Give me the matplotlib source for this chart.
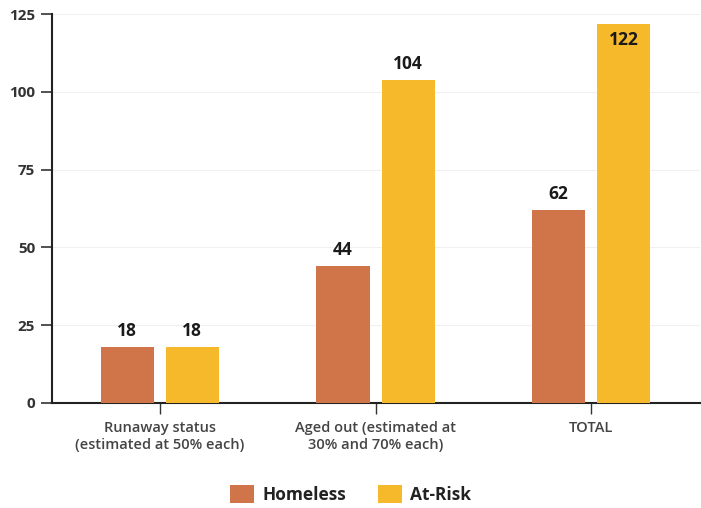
import matplotlib.pyplot as plt
import numpy as np

# Data
categories = ['Runaway status\n(estimated at 50% each)',
              'Aged out (estimated at\n30% and 70% each)',
              'TOTAL']
homeless = [18, 44, 62]
at_risk = [18, 104, 122]

homeless_color = '#D0744A'
atrisk_color = '#F5B92B'

fig = plt.figure(figsize=(7.01, 5.08), dpi=100)
ax = fig.add_axes([0.074, 0.207, 0.925, 0.765])

x = np.arange(len(categories))
w = 0.246
off = 0.151
b1 = ax.bar(x - off, homeless, w, color=homeless_color, label='Homeless', zorder=3)
b2 = ax.bar(x + off, at_risk, w, color=atrisk_color, label='At-Risk', zorder=3)

# value labels
for bars in (b1, b2):
    for rect in bars:
        h = rect.get_height()
        cx = rect.get_x() + rect.get_width() / 2
        if h > 115:
            ax.text(cx, h - 2.5, f'{h:g}', ha='center', va='top',
                    fontsize=12.5, fontweight='bold', color='#1a1a1a',
                    family='Open Sans', zorder=4)
        else:
            ax.text(cx, h + 2.2, f'{h:g}', ha='center', va='bottom',
                    fontsize=12.5, fontweight='bold', color='#1a1a1a',
                    family='Open Sans', zorder=4)

ax.set_xlim(-0.5, 2.505)
ax.set_ylim(0, 125)
ax.set_yticks([0, 25, 50, 75, 100, 125])
ax.set_xticks(x)
ax.set_xticklabels(categories, fontsize=10.5, fontweight='semibold',
                   color='#444444', family='Open Sans', linespacing=1.3)
for lab in ax.get_yticklabels():
    lab.set_fontsize(11)
    lab.set_fontweight('bold')
    lab.set_color('#333333')
    lab.set_family('Open Sans')

ax.grid(axis='y', color='#f0f0f0', linewidth=0.8, zorder=0)
ax.spines['top'].set_visible(False)
ax.spines['right'].set_visible(False)
ax.spines['left'].set_linewidth(1.5)
ax.spines['bottom'].set_linewidth(1.5)
ax.spines['left'].set_color('#222222')
ax.spines['bottom'].set_color('#222222')
ax.tick_params(axis='y', length=8, width=1.2, color='#333333', pad=4)
ax.tick_params(axis='x', length=8, width=1.0, color='#333333', pad=5)

leg = fig.legend(handles=[b1, b2], loc='center', bbox_to_anchor=(0.5, 0.027),
                 ncol=2, frameon=False, handlelength=1.4, handleheight=1.2,
                 columnspacing=1.8, handletextpad=0.5,
                 prop={'family': 'Open Sans', 'weight': 'bold', 'size': 12.5})
for t in leg.get_texts():
    t.set_color('#222222')

fig.savefig('out.png', dpi=100)
